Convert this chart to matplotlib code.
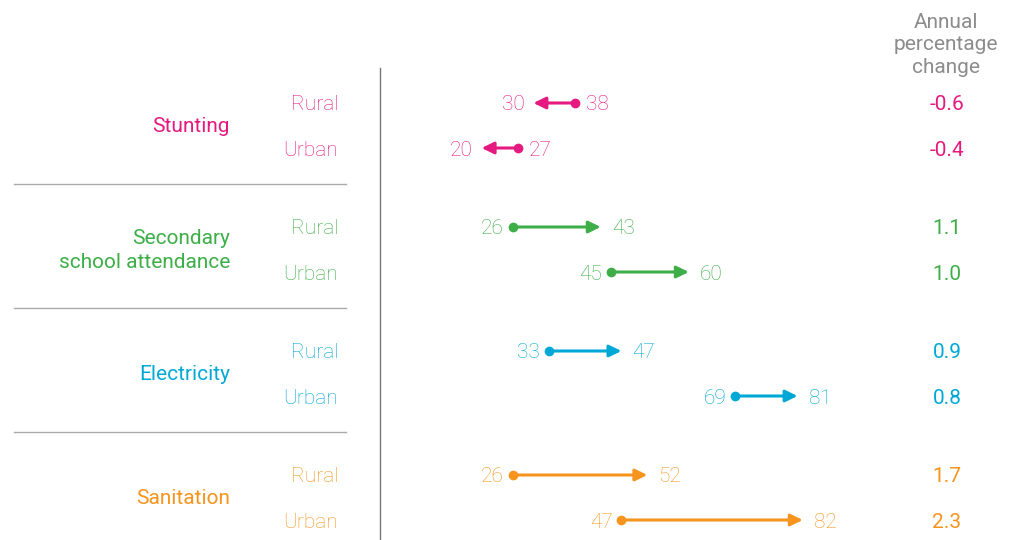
import matplotlib.pyplot as plt

plt.rcParams['font.family'] = ['Roboto', 'DejaVu Sans']

# Data ----------------------------------------------------------------------------------------------------------------
indicators = ["Stunting", "Secondary\nschool attendance", "Electricity", "Sanitation"]
areas = ["Rural", "Urban"]
start_values = [[38, 27], [26, 45], [33, 69], [26, 47]]
end_values = [[30, 20], [43, 60], [47, 81], [52, 82]]
annual_change = [["-0.6", "-0.4"], ["1.1", "1.0"], ["0.9", "0.8"], ["1.7", "2.3"]]
colors = ["#E5197F", "#3DAE48", "#00A9D5", "#F7941D"]

# Layout (pixel based, figure is 1013 x 540) --------------------------------------------------------------------------
W, H = 1013, 540
x0_px = 378      # pixel of value 0
scale = 5.18     # pixels per unit
fig = plt.figure(figsize=(W / 100, H / 100), dpi=100)
ax = fig.add_axes([0, 0, 1, 1])
ax.set_xlim(-x0_px / scale, (W - x0_px) / scale)
ax.set_ylim(H, 0)
ax.axis("off")


def px(x):
    return (x - x0_px) / scale


row_y = lambda g, r: 103 + g * 124 + r * 45
dy = 2  # text nudge so glyphs sit on the arrow line

ax.plot([px(380), px(380)], [68, 540], color="#777777", lw=1)

for g, name in enumerate(indicators):
    c = colors[g]
    ys = [row_y(g, 0), row_y(g, 1)]
    ax.text(px(230), (ys[0] + ys[1]) / 2 + 1, name, color=c, fontsize=15,
            ha="right", va="center", linespacing=1.3)
    if g > 0:
        sep = row_y(g, 0) - 43
        ax.plot([px(14), px(346)], [sep, sep], color="#AAAAAA", lw=1)
    for r, area in enumerate(areas):
        y = ys[r]
        s = start_values[g][r]
        e = end_values[g][r]
        ax.text(px(338), y + dy, area, color=c, fontsize=15, fontweight="light",
                ha="right", va="center")
        ax.annotate("", xy=(e, y), xytext=(s, y),
                    arrowprops=dict(arrowstyle="-|>,head_length=0.45,head_width=0.22",
                                    color=c, lw=2.2, shrinkA=0, shrinkB=0,
                                    mutation_scale=16))
        ax.plot(s, y, "o", color=c, ms=7, mec="none")
        lo, hi = min(s, e), max(s, e)
        ax.text(lo - 9 / scale, y + dy, str(lo), color=c, fontsize=15, fontweight="light",
                ha="right", va="center")
        ax.text(hi + 11 / scale, y + dy, str(hi), color=c, fontsize=15, fontweight="light",
                ha="left", va="center")
        ax.text(px(947), y + dy, annual_change[g][r], color=c, fontsize=15,
                ha="center", va="center")

ax.text(px(946), 45, "Annual\npercentage\nchange", color="#8C8C8C", fontsize=15,
        ha="center", va="center", linespacing=1.25)

fig.savefig("out.png", dpi=100)
